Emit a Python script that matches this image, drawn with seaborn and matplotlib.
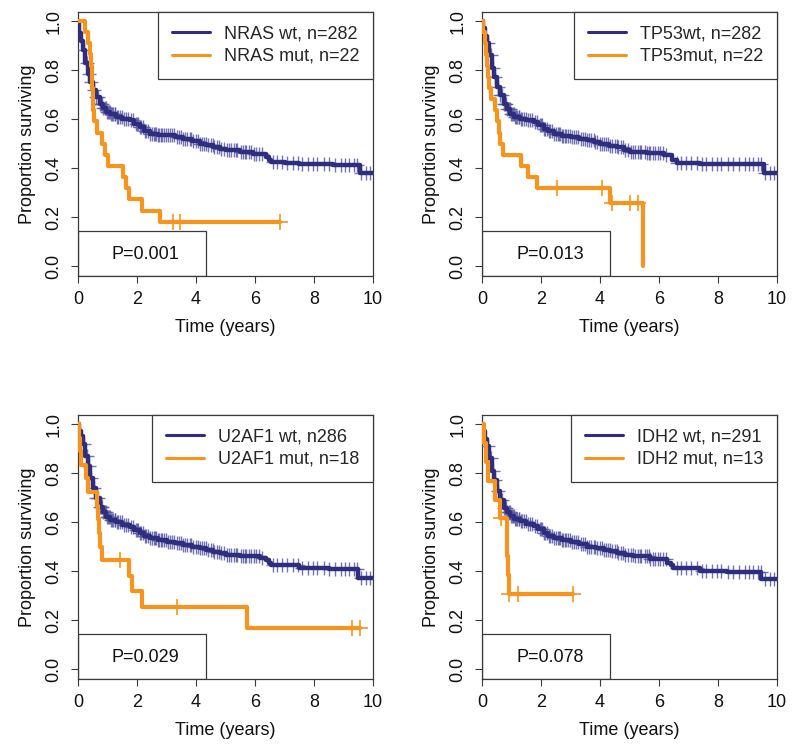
import numpy as np
import pandas as pd
import matplotlib
matplotlib.use("Agg")
import matplotlib.pyplot as plt
import seaborn as sns
from matplotlib.lines import Line2D
from matplotlib.patches import Rectangle

# ---------------- data ----------------
panel_genes = ["NRAS", "TP53", "U2AF1", "IDH2"]
wt_labels = ["NRAS wt, n=282", "TP53wt, n=282", "U2AF1 wt, n286", "IDH2 wt, n=291"]
mut_labels = ["NRAS mut, n=22", "TP53mut, n=22", "U2AF1 mut, n=18", "IDH2 mut, n=13"]
p_labels = ["P=0.001", "P=0.013", "P=0.029", "P=0.078"]

# wild-type Kaplan-Meier curves (time in years, survival)
nras_wt_t = [0, 0.02, 0.1, 0.17, 0.25, 0.34, 0.42, 0.51, 0.6, 0.73, 0.85, 0.96, 1.1, 1.3, 1.5, 1.75, 1.9,
             2.09, 2.25, 2.43, 2.7, 3.0, 3.3, 3.56, 3.85, 4.12, 4.35, 4.58, 4.8, 5.03, 5.48, 5.93, 6.38,
             6.48, 6.55, 7.0, 7.5, 8.64, 9.55, 10.0]
nras_wt_s = [1.0, 0.95, 0.92, 0.88, 0.83, 0.785, 0.75, 0.717, 0.69, 0.663, 0.645, 0.63, 0.62, 0.61, 0.60,
             0.595, 0.58, 0.568, 0.553, 0.54, 0.537, 0.534, 0.527, 0.52, 0.51, 0.50, 0.493, 0.486, 0.48,
             0.473, 0.466, 0.457, 0.446, 0.435, 0.425, 0.42, 0.418, 0.414, 0.38, 0.38]

tp53_wt_t = [0, 0.05, 0.1, 0.17, 0.25, 0.34, 0.42, 0.51, 0.6, 0.73, 0.85, 0.96, 1.1, 1.3, 1.5, 1.75, 1.9,
             2.09, 2.25, 2.43, 2.7, 3.0, 3.3, 3.56, 3.8, 4.0, 4.3, 4.58, 4.8, 5.03, 5.6, 6.16, 6.44,
             6.6, 7.4, 8.5, 9.55, 10.0]
tp53_wt_s = [1.0, 0.97, 0.94, 0.91, 0.86, 0.81, 0.77, 0.73, 0.70, 0.66, 0.64, 0.62, 0.61, 0.60, 0.595,
             0.59, 0.575, 0.56, 0.55, 0.54, 0.533, 0.527, 0.52, 0.514, 0.505, 0.497, 0.492, 0.486, 0.476,
             0.466, 0.462, 0.452, 0.432, 0.423, 0.418, 0.416, 0.38, 0.38]

u2af1_wt_t = [0, 0.05, 0.1, 0.17, 0.25, 0.34, 0.42, 0.51, 0.6, 0.73, 0.85, 0.96, 1.1, 1.3, 1.5, 1.75, 1.9,
              2.09, 2.25, 2.43, 2.7, 3.0, 3.3, 3.56, 3.85, 4.12, 4.35, 4.58, 4.8, 5.03, 5.48, 6.16, 6.38,
              6.48, 6.55, 7.5, 8.5, 9.5, 10.0]
u2af1_wt_s = [1.0, 0.97, 0.95, 0.92, 0.87, 0.83, 0.78, 0.74, 0.70, 0.66, 0.64, 0.62, 0.61, 0.60, 0.59,
              0.58, 0.568, 0.556, 0.545, 0.535, 0.527, 0.52, 0.514, 0.508, 0.50, 0.495, 0.487, 0.48, 0.474,
              0.467, 0.46, 0.454, 0.447, 0.435, 0.424, 0.413, 0.409, 0.373, 0.373]

idh2_wt_t = [0, 0.05, 0.1, 0.17, 0.25, 0.34, 0.42, 0.51, 0.6, 0.73, 0.85, 0.96, 1.1, 1.3, 1.5, 1.75, 1.9,
             2.09, 2.25, 2.43, 2.7, 3.0, 3.3, 3.56, 3.85, 4.12, 4.35, 4.57, 4.85, 5.13, 5.7, 6.26, 6.4,
             6.48, 7.38, 8.3, 9.47, 10.0]
idh2_wt_s = [1.0, 0.97, 0.94, 0.91, 0.86, 0.81, 0.77, 0.725, 0.69, 0.657, 0.64, 0.623, 0.613, 0.603, 0.593,
             0.583, 0.57, 0.556, 0.545, 0.535, 0.527, 0.52, 0.51, 0.50, 0.494, 0.488, 0.481, 0.474, 0.467,
             0.46, 0.45, 0.434, 0.425, 0.413, 0.40, 0.398, 0.366, 0.366]

# censoring times of wild-type groups (years)
wt_censor_t = [0.22, 0.3, 0.38, 0.45, 0.55, 0.62, 0.68, 0.74, 0.78, 0.82, 0.86, 0.9, 0.94, 0.98, 1.02,
               1.05, 1.08, 1.12, 1.15, 1.2, 1.24, 1.27, 1.31, 1.35, 1.42, 1.48, 1.55, 1.62, 1.7, 1.78,
               1.85, 1.95, 2.0, 2.05, 2.1, 2.15, 2.2, 2.26, 2.32, 2.38, 2.44, 2.5, 2.58, 2.62, 2.65,
               2.7, 2.75, 2.8, 2.85, 2.92, 2.98, 3.05, 3.12, 3.2, 3.27, 3.35, 3.42, 3.5, 3.56, 3.62,
               3.7, 3.78, 3.84, 3.9, 4.0, 4.08, 4.14, 4.2, 4.28, 4.34, 4.4, 4.5, 4.56, 4.62, 4.7,
               4.78, 4.85, 4.95, 5.05, 5.12, 5.2, 5.3, 5.36, 5.4, 5.52, 5.6, 5.66, 5.7, 5.78, 5.85,
               5.95, 6.05, 6.15, 6.25, 6.6, 6.75, 6.9, 7.1, 7.3, 7.45, 7.6, 7.8, 7.95, 8.1, 8.35,
               8.5, 8.7, 8.9, 9.05, 9.2, 9.35, 9.45, 9.6, 9.75, 9.9]

# mutant Kaplan-Meier curves
nras_mut_t = [0, 0.24, 0.33, 0.40, 0.45, 0.47, 0.49, 0.50, 0.52, 0.55, 0.63, 0.8, 0.92, 1.0, 1.54, 1.64,
              1.72, 2.16, 2.78, 6.85]
nras_mut_s = [1.0, 0.955, 0.909, 0.864, 0.818, 0.773, 0.727, 0.682, 0.636, 0.591, 0.545, 0.5, 0.455,
              0.409, 0.364, 0.318, 0.273, 0.227, 0.182, 0.182]
nras_mut_censor = [3.23, 3.46, 6.85]

tp53_mut_t = [0, 0.05, 0.1, 0.13, 0.17, 0.2, 0.25, 0.3, 0.45, 0.5, 0.57, 0.62, 0.7, 1.33, 1.55, 1.87,
              4.34, 5.46]
tp53_mut_s = [1.0, 0.955, 0.909, 0.864, 0.818, 0.773, 0.727, 0.682, 0.636, 0.591, 0.545, 0.5, 0.455,
              0.409, 0.364, 0.318, 0.256, 0.0]
tp53_mut_censor = [2.55, 4.08, 4.4, 5.0, 5.3]

u2af1_mut_t = [0, 0.05, 0.08, 0.1, 0.28, 0.35, 0.63, 0.68, 0.72, 0.75, 0.8, 1.72, 1.82, 2.16, 5.72, 9.56]
u2af1_mut_s = [1.0, 0.944, 0.889, 0.833, 0.778, 0.722, 0.667, 0.611, 0.556, 0.5, 0.444, 0.381, 0.317,
               0.254, 0.169, 0.169]
u2af1_mut_censor = [1.42, 3.35, 9.28, 9.56]

idh2_mut_t = [0, 0.07, 0.12, 0.2, 0.44, 0.6, 0.84, 0.86, 0.88, 0.9, 3.08]
idh2_mut_s = [1.0, 0.923, 0.846, 0.769, 0.692, 0.615, 0.54, 0.46, 0.385, 0.308, 0.308]
idh2_mut_censor = [0.65, 0.92, 1.22, 3.08]

wt_t = [nras_wt_t, tp53_wt_t, u2af1_wt_t, idh2_wt_t]
wt_s = [nras_wt_s, tp53_wt_s, u2af1_wt_s, idh2_wt_s]
mut_t = [nras_mut_t, tp53_mut_t, u2af1_mut_t, idh2_mut_t]
mut_s = [nras_mut_s, tp53_mut_s, u2af1_mut_s, idh2_mut_s]
mut_c = [nras_mut_censor, tp53_mut_censor, u2af1_mut_censor, idh2_mut_censor]

x_ticks = [0, 2, 4, 6, 8, 10]
y_ticks = [0.0, 0.2, 0.4, 0.6, 0.8, 1.0]

# ---------------- style ----------------
BLUE = "#2E2D7E"
CBLUE = "#5D5CA6"
ORANGE = "#F7941E"
EDGE = "#3a3a3a"

sns.set_style("white")
plt.rcParams["font.family"] = ["Liberation Sans", "DejaVu Sans"]

fig = plt.figure(figsize=(8.0, 7.49), dpi=100)
W, H = 800, 749
boxes = [(78, 12), (482, 12), (78, 415), (482, 415)]  # left, top in px
bw, bh = 295, 264


def step_eval(t, s, q):
    idx = np.searchsorted(np.asarray(t), np.asarray(q), side="right") - 1
    idx = np.clip(idx, 0, len(s) - 1)
    return np.asarray(s)[idx]


for i in range(4):
    L, T = boxes[i]
    ax = fig.add_axes([L / W, 1 - (T + bh) / H, bw / W, bh / H])

    df_wt = pd.DataFrame({"t": wt_t[i], "s": wt_s[i]})
    df_mut = pd.DataFrame({"t": mut_t[i], "s": mut_s[i]})

    wt_c = [c for c in wt_censor_t if c <= wt_t[i][-1]]
    ax.plot(wt_c, step_eval(wt_t[i], wt_s[i], wt_c), ls="none", marker="+",
            ms=10, mew=1.0, color=CBLUE, alpha=0.85, zorder=3)
    sns.lineplot(data=df_wt, x="t", y="s", ax=ax, color=BLUE, lw=3.2,
                 drawstyle="steps-post", estimator=None, sort=False, zorder=3)

    sns.lineplot(data=df_mut, x="t", y="s", ax=ax, color=ORANGE, lw=3.0,
                 drawstyle="steps-post", estimator=None, sort=False, zorder=4)
    ax.plot(mut_c[i], step_eval(mut_t[i], mut_s[i], mut_c[i]), ls="none", marker="+",
            ms=12, mew=1.2, color=ORANGE, zorder=4)

    ax.set_xlim(0, 10)
    ax.set_ylim(-0.04, 1.037)
    ax.set_xticks(x_ticks)
    ax.set_xticklabels([str(v) for v in x_ticks])
    ax.set_yticks(y_ticks)
    ax.set_yticklabels([f"{v:.1f}" for v in y_ticks], rotation=90, va="center")
    ax.tick_params(axis="both", which="major", direction="out", length=5, width=0.8,
                   color=EDGE, labelsize=13, labelcolor="#111111", left=True, bottom=True)
    ax.tick_params(axis="x", pad=6)
    ax.tick_params(axis="y", pad=6)
    for sp in ax.spines.values():
        sp.set_visible(True)
        sp.set_color(EDGE)
        sp.set_linewidth(0.9)
    ax.set_xlabel("Time (years)", fontsize=13, color="#111111", labelpad=8)
    ax.set_ylabel("Proportion surviving", fontsize=13, color="#111111", labelpad=7)
    ax.grid(False)

    handles = [Line2D([0], [0], color=BLUE, lw=2.2), Line2D([0], [0], color=ORANGE, lw=2.2)]
    leg = ax.legend(handles, [wt_labels[i], mut_labels[i]], loc="upper right",
                    borderaxespad=0, frameon=True, fancybox=False, framealpha=1,
                    edgecolor=EDGE, fontsize=13, handlelength=2.1, handletextpad=0.8,
                    borderpad=0.75, labelspacing=0.3)
    leg.get_frame().set_linewidth(0.9)
    leg.set_zorder(6)

    ax.add_patch(Rectangle((0, -0.04), 4.33, 0.185, facecolor="none", edgecolor=EDGE,
                           lw=0.9, zorder=5))
    ax.text(2.3, 0.047, p_labels[i], ha="center", va="center", fontsize=13,
            color="#111111", zorder=6)

fig.savefig("out.png", dpi=100)
